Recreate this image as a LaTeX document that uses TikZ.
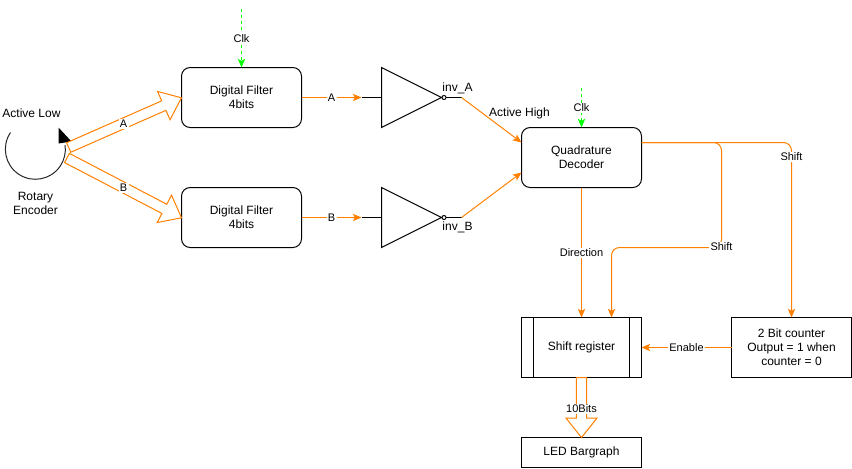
\documentclass[tikz,border=0pt]{standalone}
\usepackage{fontspec}
\setmainfont{Liberation Sans}
\usepackage{tikz}
\usetikzlibrary{positioning,arrows.meta,calc,shapes.geometric}
\definecolor{wireorange}{HTML}{FF8000}
\definecolor{clkgreen}{HTML}{00FF00}
\newcommand{\flexarrow}[2]{%
  \draw[flexmap] ($(#1)!3.9pt!90:(#2)$) -- ($(#2)!14.5pt!(#1)!3.9pt!-90:(#1)$) -- ($(#2)!14.5pt!(#1)!11.6pt!-90:(#1)$) -- (#2)
    -- ($(#2)!14.5pt!(#1)!11.6pt!90:(#1)$) -- ($(#2)!14.5pt!(#1)!3.9pt!90:(#1)$) -- ($(#1)!3.9pt!-90:(#2)$) -- cycle;}
\begin{document}
\begin{tikzpicture}[
  x=0.75pt, y=-0.75pt,
  font=\fontsize{9pt}{10.5pt}\selectfont,
  >={Stealth[length=6.5pt,width=5.5pt,inset=1.5pt]},
  roundbox/.style={draw=black, line width=0.75pt, rounded corners=6.5pt, align=center, minimum width=90pt, minimum height=45pt, inner sep=0pt, outer sep=0pt},
  plainbox/.style={draw=black, line width=0.75pt, align=center, minimum width=90pt, minimum height=45pt, inner sep=0pt, outer sep=0pt},
  invgate/.style={isosceles triangle, isosceles triangle apex angle=53.13, isosceles triangle stretches, draw=black, line width=0.75pt, minimum width=45pt, minimum height=45pt, inner sep=0pt, outer sep=0pt, anchor=lower side},
  invbubble/.style={circle, draw=black, line width=0.75pt, fill=white, minimum size=3pt, inner sep=0pt, outer sep=0pt},
  wiremap/.style={->, draw=wireorange, line width=0.75pt},
  clkmap/.style={->, draw=clkgreen, line width=0.75pt, dash pattern=on 2.25pt off 2.25pt},
  flexmap/.style={draw=wireorange, line width=0.75pt, fill=white, line join=miter},
  blackwire/.style={draw=black, line width=0.75pt},
  wirelabel/.style={fill=white, inner sep=1pt, yshift=-0.4pt, font=\fontsize{8.25pt}{9.5pt}\selectfont},
  textlabel/.style={inner sep=0pt, align=center}
]
  \useasboundingbox (-0.5,-0.5) rectangle (851.5,467.5);

  % blocks
  \node[roundbox] (filtA) at (241,97) {Digital Filter\\4bits};
  \node[roundbox] (filtB) at (241,217) {Digital Filter\\4bits};
  \node[roundbox] (quad) at (581,157) {Quadrature\\Decoder};
  \node[plainbox] (sreg) at (581,347) {Shift register};
  \node[plainbox] (counter) at (791,347) {2 Bit counter\\Output = 1 when\\counter = 0};
  \node[plainbox, minimum height=22.5pt] (led) at (581,452) {LED Bargraph};
  \draw[blackwire] ($(sreg.north west)+(12,0)$) -- ($(sreg.south west)+(12,0)$);
  \draw[blackwire] ($(sreg.north east)+(-12,0)$) -- ($(sreg.south east)+(-12,0)$);

  % inverters
  \node[invgate] (gateA) at (381,97) {};
  \node[invgate] (gateB) at (381,217) {};
  \node[invbubble] (bubA) at (443.5,97) {};
  \node[invbubble] (bubB) at (443.5,217) {};
  \coordinate (inA) at (361,97);
  \coordinate (inB) at (361,217);
  \coordinate (outA) at (461,97);
  \coordinate (outB) at (461,217);
  \draw[blackwire] (inA) -- (gateA.lower side);
  \draw[blackwire] (inB) -- (gateB.lower side);
  \draw[blackwire] (bubA) -- (outA);
  \draw[blackwire] (bubB) -- (outB);

  % rotary encoder
  \draw[line width=0.75pt, draw=black!85] (10,132) arc[start angle=146, end angle=368, radius=22.5pt];
  \fill[black] (58,127) -- (58,143) -- (71,141) -- cycle;
  \coordinate (encA) at (68.2,147);
  \coordinate (encB) at (66.5,157.5);
  \coordinate (tipA) at (181,97.3);
  \coordinate (tipB) at (181,217.3);

  % wide arrows
  \flexarrow{encA}{tipA}
  \flexarrow{encB}{tipB}
  \flexarrow{sreg.south}{led.north}
  \node[wirelabel] (lblEncA) at (123,123) {A};
  \node[wirelabel] (lblEncB) at (123,187) {B};
  \node[wirelabel] (lblBits) at (581,408) {10Bits};

  % wires
  \draw[wiremap] (filtA.east) -- node[wirelabel] (lblA) {A} (inA);
  \draw[wiremap] (filtB.east) -- node[wirelabel] (lblB) {B} (inB);
  \draw[wiremap] (outA) -- ($(quad.north west)!0.25!(quad.south west)$);
  \draw[wiremap] (outB) -- ($(quad.north west)!0.75!(quad.south west)$);
  \coordinate (quadOut) at ($(quad.north east)!0.25!(quad.south east)$);
  \draw[wiremap, rounded corners=6pt] (quadOut) -- (721,142) -- (721,247) -- (611,247) -- (611,317);
  \draw[wiremap, rounded corners=6pt] (quadOut) -- (791,142) -- (counter.north);
  \node[wirelabel] (lblShiftA) at (721,246) {Shift};
  \node[wirelabel] (lblShiftB) at (791,156) {Shift};
  \draw[wiremap] (quad.south) -- node[wirelabel, pos=0.5] (lblDir) {Direction} (sreg.north);
  \draw[wiremap] (counter.west) -- node[wirelabel] (lblEn) {Enable} (sreg.east);

  % clocks
  \coordinate (clkTopA) at (241,8);
  \coordinate (clkTopB) at (581,87);
  \draw[clkmap] (clkTopA) -- node[wirelabel, pos=0.5] (lblClkA) {Clk} (filtA.north);
  \draw[clkmap] (clkTopB) -- node[wirelabel, pos=0.5] (lblClkB) {Clk} (quad.north);

  % free labels
  \node[textlabel] (txtLow) at (31,113) {Active Low};
  \node[textlabel] (txtEnc) at (35,203) {Rotary\\Encoder};
  \node[textlabel] (txtHigh) at (519,113) {Active High};
  \node[textlabel] (txtInvA) at (457,88) {inv\_A};
  \node[textlabel] (txtInvB) at (457,227) {inv\_B};
\end{tikzpicture}
\end{document}
